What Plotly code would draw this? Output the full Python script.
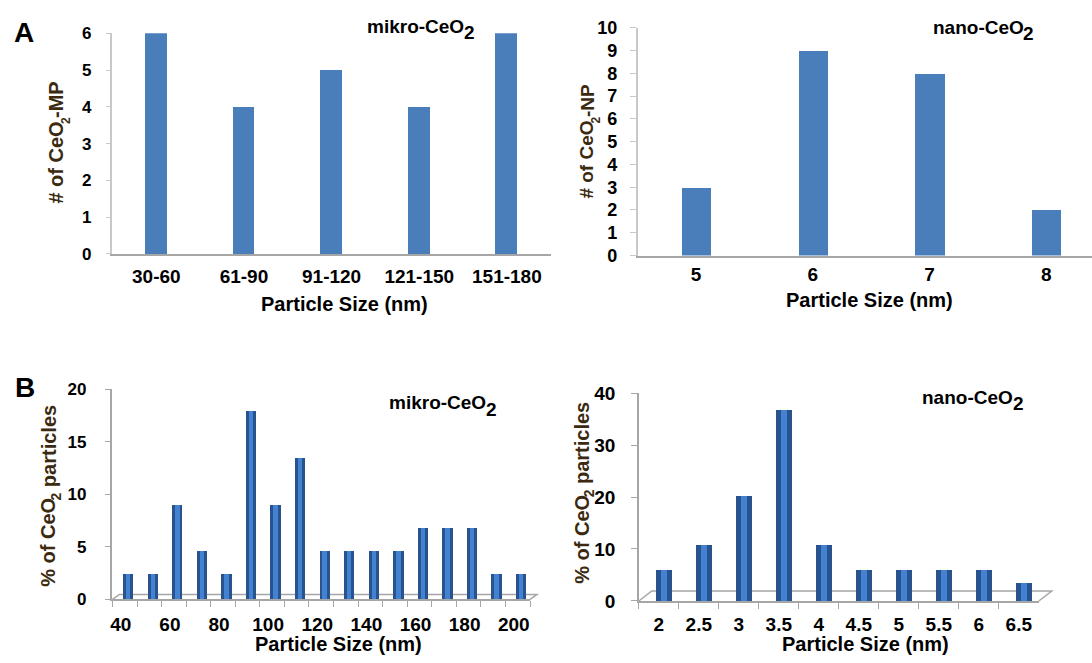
import plotly.graph_objects as go

# ---------------- data ----------------
a1_cats = ["30-60", "61-90", "91-120", "121-150", "151-180"]
a1_vals = [6, 4, 5, 4, 6]

a2_cats = ["5", "6", "7", "8"]
a2_vals = [3, 9, 8, 2]

b1_sizes = [40, 50, 60, 70, 80, 90, 100, 110, 120, 130, 140, 150, 160, 170, 180, 190, 200]
b1_vals = [2.4, 2.4, 9.0, 4.6, 2.4, 17.9, 9.0, 13.4, 4.6, 4.6, 4.6, 4.6, 6.8, 6.8, 6.8, 2.4, 2.4]
b1_ticks = [40, 60, 80, 100, 120, 140, 160, 180, 200]

b2_cats = ["2", "2.5", "3", "3.5", "4", "4.5", "5", "5.5", "6", "6.5"]
b2_vals = [6.0, 10.8, 20.2, 36.8, 10.8, 6.0, 6.0, 6.0, 6.0, 3.5]

W, H = 1092, 663
FONT = "Liberation Sans, Arial, sans-serif"
TITLE_COL = "#3b2a10"
BAR_A = "#4A7EBB"
BAR_B_DARK = "#28538F"
BAR_B_LIGHT = "#4282D0"
AXIS_DARK = "#a6a6a6"
AXIS_LIGHT = "#c8c8c8"

# Arial/Liberation Sans Bold advance widths (per 1000 em) for label layout
ADV = {'#': 556, ' ': 278, 'o': 611, 'f': 333, 'C': 722, 'e': 556, 'O': 778, '2': 556,
       '-': 333, 'M': 833, 'P': 667, 'N': 722, 'p': 611, 'a': 556, 'r': 389, 't': 333,
       'i': 278, 'c': 556, 'l': 278, 's': 556, 'm': 889, 'k': 556, 'n': 611, '%': 889}


def tw(s, size):
    return sum(ADV[c] for c in s) / 1000.0 * size


def D(y):
    # target picture y -> page y (the captured picture is slightly squeezed vertically)
    return (y - 9.0) / 0.97


def px(x):
    return x / W


def pyd(yd):
    return 1 - yd / H


def py(y):
    return pyd(D(y))


fig = go.Figure()

fig.add_trace(go.Bar(x=a1_cats, y=a1_vals, width=0.25, marker=dict(color=BAR_A, line=dict(width=0)),
                     xaxis="x", yaxis="y", showlegend=False))
fig.add_trace(go.Bar(x=a2_cats, y=a2_vals, width=0.25, marker=dict(color=BAR_A, line=dict(width=0)),
                     xaxis="x2", yaxis="y2", showlegend=False))
# pseudo-3D cylinders: dark body + light core
fig.add_trace(go.Bar(x=b1_sizes, y=b1_vals, width=4.2, offset=-0.5,
                     marker=dict(color=BAR_B_DARK, line=dict(width=0)),
                     xaxis="x3", yaxis="y3", showlegend=False))
fig.add_trace(go.Bar(x=b1_sizes, y=b1_vals, width=1.8, offset=0.7,
                     marker=dict(color=BAR_B_LIGHT, line=dict(width=0)),
                     xaxis="x3", yaxis="y3", showlegend=False))
fig.add_trace(go.Bar(x=b2_cats, y=b2_vals, width=0.39, offset=-0.07,
                     marker=dict(color=BAR_B_DARK, line=dict(width=0)),
                     xaxis="x4", yaxis="y4", showlegend=False))
fig.add_trace(go.Bar(x=b2_cats, y=b2_vals, width=0.17, offset=0.04,
                     marker=dict(color=BAR_B_LIGHT, line=dict(width=0)),
                     xaxis="x4", yaxis="y4", showlegend=False))


def tf(size):
    return dict(family=FONT, size=size, color="#000000", weight="bold")


a2_right = (W - 636.7) / 117.0 - 0.5

fig.update_layout(
    width=W, height=H,
    margin=dict(l=0, r=0, t=0, b=0),
    paper_bgcolor="white", plot_bgcolor="white",
    barmode="overlay",
    bargap=0,
    xaxis=dict(domain=[px(110.7), px(549.7)], anchor="y", type="category", range=[-0.5, 4.5],
               showline=True, linecolor=AXIS_DARK, linewidth=1.5, ticks="", showgrid=False,
               tickfont=tf(19), ticklabelstandoff=5),
    yaxis=dict(domain=[py(253.3), py(32.3)], anchor="x", range=[0, 6], dtick=1,
               showline=True, linecolor=AXIS_LIGHT, linewidth=1.5, ticks="outside", ticklen=5,
               tickcolor=AXIS_LIGHT, showgrid=False, zeroline=False,
               tickfont=tf(17), ticklabelstandoff=11),
    xaxis2=dict(domain=[px(636.7), 1], anchor="y2", type="category", range=[-0.5, a2_right],
                showline=True, linecolor=AXIS_DARK, linewidth=1.5, ticks="", showgrid=False,
                tickfont=tf(19), ticklabelstandoff=1),
    yaxis2=dict(domain=[py(255), py(26.7)], anchor="x2", range=[0, 10], dtick=1,
                showline=True, linecolor=AXIS_LIGHT, linewidth=1.5, ticks="outside", ticklen=6,
                tickcolor=AXIS_LIGHT, showgrid=False, zeroline=False,
                tickfont=tf(18), ticklabelstandoff=9),
    xaxis3=dict(domain=[px(110.7), px(529)], anchor="y3", range=[35, 205],
                tickvals=b1_ticks, ticks="", showline=True, linecolor=AXIS_DARK, linewidth=1.5,
                showgrid=False, zeroline=False, tickfont=tf(19), ticklabelstandoff=7,
                ticklabelshift=-4,
                minor=dict(tickvals=[s - 5 for s in b1_sizes] + [b1_sizes[-1] + 5],
                           ticks="outside", ticklen=6, tickcolor=AXIS_DARK, showgrid=False)),
    yaxis3=dict(domain=[py(599.4), py(388.7)], anchor="x3", range=[0, 20], dtick=5,
                showline=True, linecolor=AXIS_DARK, linewidth=1.5, ticks="outside", ticklen=6,
                tickcolor=AXIS_DARK, showgrid=False, zeroline=False,
                tickfont=tf(17), ticklabelstandoff=15),
    xaxis4=dict(domain=[px(638), px(1038.7)], anchor="y4", type="category", range=[-0.5, 9.5],
                tickson="boundaries", ticks="outside", ticklen=6, tickcolor=AXIS_DARK,
                showline=True, linecolor=AXIS_DARK, linewidth=1.5, showgrid=False,
                tickfont=tf(19), ticklabelstandoff=5),
    yaxis4=dict(domain=[py(601), py(392.7)], anchor="x4", range=[0, 40], dtick=10,
                showline=True, linecolor=AXIS_DARK, linewidth=1.5, ticks="outside", ticklen=6,
                tickcolor=AXIS_DARK, showgrid=False, zeroline=False,
                tickfont=tf(19), ticklabelstandoff=12),
)


def floor(xref, yref, x0, x1, y0, y1, dx, dy):
    fx = dx / (x1 - x0)
    fy = (dy / 0.97) / (D(y0) - D(y1))
    fig.add_shape(type="path", xref=xref, yref=yref,
                  path="M 0,0 L %f,%f L %f,%f L 1,0" % (fx, fy, 1 + fx, fy),
                  line=dict(color=AXIS_DARK, width=1.5), layer="below")


floor("x3 domain", "y3 domain", 110.7, 529, 599.4, 388.7, 7, 5)
floor("x4 domain", "y4 domain", 638, 1038.7, 601, 392.7, 13, 10)


def ann(text, x, yd, size, color="#000000", angle=0, xanchor="center", yanchor="middle"):
    fig.add_annotation(text=text, x=px(x), y=pyd(yd), xref="paper", yref="paper",
                       showarrow=False, xanchor=xanchor, yanchor=yanchor, textangle=angle,
                       borderpad=0, borderwidth=0,
                       font=dict(family=FONT, size=size, color=color, weight="bold"))


def inset(main, x0, cy, cy2, size=19):
    ann(main, x0, D(cy), size, xanchor="left")
    ann("2", x0 + tw(main, size), D(cy2), size, xanchor="left")


def ytitle(pre, post, xc, x2c, ybottom, size, size2):
    yb = D(ybottom)
    w1 = tw(pre, size)
    w2 = tw("2", size2)
    ann(pre, xc, yb, size, TITLE_COL, -90, "center", "bottom")
    ann("2", x2c, yb - w1, size2, TITLE_COL, -90, "center", "bottom")
    ann(post, xc, yb - w1 - w2, size, TITLE_COL, -90, "center", "bottom")


# panel letters
ann("A", 21.7, D(31.7), 28)
ann("B", 22.6, D(387.5), 28)

# inset labels
inset("mikro-CeO", 365.6, 25.8, 31.7)
inset("nano-CeO", 932.5, 26.7, 32.5)
inset("mikro-CeO", 388.2, 402.5, 409)
inset("nano-CeO", 922, 397.5, 403.3)

# x-axis titles
ann("Particle Size (nm)", 343, D(304), 20)
ann("Particle Size (nm)", 869, D(300), 20)
ann("Particle Size (nm)", 337, min(D(653), 655), 20)
ann("Particle Size (nm)", 865.5, min(D(653), 655), 20)

# y-axis titles (rotated, subscript 2 set lower)
ytitle("# of CeO", "-MP", 54, 63.5, 203, 20, 12)
ytitle("# of CeO", "-NP", 586, 595, 198, 19, 12)
ytitle("% of CeO", " particles", 46.7, 54, 586.7, 20, 14)
ytitle("% of CeO", " particles", 581, 588, 583.3, 20, 14)

fig.write_html("out.html", config={"displayModeBar": False},
               post_script="document.body.style.margin='0px';document.body.style.overflow='hidden';")
